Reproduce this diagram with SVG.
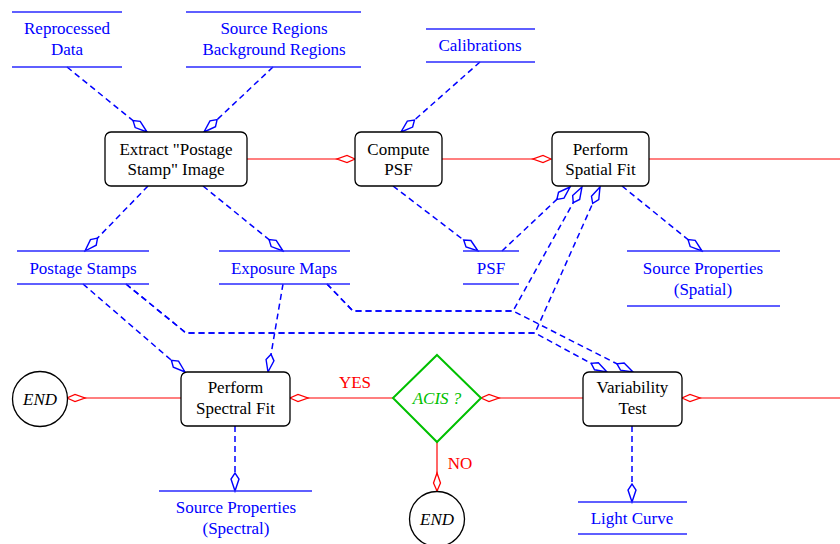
<svg xmlns="http://www.w3.org/2000/svg" width="840" height="544" viewBox="0 0 840 544">
<style>
text{font-family:"Liberation Serif","Times New Roman",serif;font-size:17px;text-anchor:middle}
.b{fill:#0000ff}
.k{fill:#000}
.r{fill:#ff0000}
.g{fill:#00c000;font-style:italic}
.i{font-style:italic}
.store line{stroke:#2a2aff;stroke-width:1.3}
.box{fill:#fff;stroke:#000;stroke-width:1.3}
.red{stroke:#ff0000;stroke-width:1.2;fill:none;marker-end:url(#mr)}
.blue{stroke:#0000ff;stroke-width:1.5;fill:none;stroke-dasharray:6 4;marker-end:url(#mb)}
</style>
<defs>
<marker id="mr" viewBox="-20 -6 22 12" refX="0" refY="0" markerWidth="22" markerHeight="12" markerUnits="userSpaceOnUse" orient="auto">
<path d="M0,0 L-8,-3.5 L-18,0 L-8,3.5 Z" fill="#fff" stroke="#ff0000" stroke-width="1.3" stroke-dasharray="none"/>
</marker>
<marker id="mb" viewBox="-20 -6 22 12" refX="0" refY="0" markerWidth="22" markerHeight="12" markerUnits="userSpaceOnUse" orient="auto">
<path d="M0,0 L-12,-4 L-18,0 L-12,4 Z" fill="#fff" stroke="#0000ff" stroke-width="1.4" stroke-dasharray="none"/>
</marker>
</defs>

<g id="connectors">
<path class="red" d="M246,159 L355,159"/>
<path class="red" d="M442,159 L551,159"/>
<path class="red" d="M649,159 L840,159" style="marker-end:none"/>
<path class="red" d="M840,398 L682,398"/>
<path class="red" d="M583,398 L481,398"/>
<path class="red" d="M393,398 L290,398"/>
<path class="red" d="M181,398 L67,398"/>
<path class="red" d="M437,442 L437,491"/>

<path class="blue" d="M67,67 L147,132"/>
<path class="blue" d="M273,67 L204,132"/>
<path class="blue" d="M480,62 L401,132"/>
<path class="blue" d="M148,186 L85,251"/>
<path class="blue" d="M203,186 L283,251"/>
<path class="blue" d="M393,186 L478,251"/>
<path class="blue" d="M502,251 L570,187"/>
<path class="blue" d="M622,186 L702,251"/>
<path class="blue" d="M83,284 L185,372"/>
<path class="blue" d="M283,284 L268,372"/>
<path class="blue" d="M327,284 L353,311 L513,311 L582,187"/>
<path class="blue" d="M327,284 L353,311 L513,311 L633,372"/>
<path class="blue" d="M126,284 L186,333 L535,333 L600,187"/>
<path class="blue" d="M126,284 L186,333 L535,333 L607,372"/>
<path class="blue" d="M235,426 L235,491"/>
<path class="blue" d="M632,426 L632,502"/>
</g>

<g id="reprocessed-data" class="store">
<line x1="12" y1="12" x2="122" y2="12"/><line x1="12" y1="67" x2="122" y2="67"/>
<text class="b" x="67" y="34">Reprocessed</text><text class="b" x="67" y="55">Data</text>
</g>
<g id="regions" class="store">
<line x1="186" y1="12" x2="361" y2="12"/><line x1="186" y1="67" x2="361" y2="67"/>
<text class="b" x="274" y="34">Source Regions</text><text class="b" x="274" y="55">Background Regions</text>
</g>
<g id="calibrations" class="store">
<line x1="426" y1="29" x2="535" y2="29"/><line x1="426" y1="62" x2="535" y2="62"/>
<text class="b" x="480" y="51">Calibrations</text>
</g>

<g id="extract">
<rect class="box" x="105" y="132" width="142" height="54" rx="6"/>
<text class="k" x="176" y="155">Extract "Postage</text><text class="k" x="176" y="175">Stamp" Image</text>
</g>
<g id="compute-psf">
<rect class="box" x="355" y="132" width="87" height="54" rx="6"/>
<text class="k" x="398.5" y="155">Compute</text><text class="k" x="398.5" y="175">PSF</text>
</g>
<g id="spatial-fit">
<rect class="box" x="552" y="132" width="97" height="54" rx="6"/>
<text class="k" x="600.5" y="155">Perform</text><text class="k" x="600.5" y="175">Spatial Fit</text>
</g>

<g id="postage-stamps" class="store">
<line x1="17" y1="251" x2="149" y2="251"/><line x1="17" y1="284" x2="149" y2="284"/>
<text class="b" x="83" y="274">Postage Stamps</text>
</g>
<g id="exposure-maps" class="store">
<line x1="219" y1="251" x2="350" y2="251"/><line x1="219" y1="284" x2="350" y2="284"/>
<text class="b" x="284" y="274">Exposure Maps</text>
</g>
<g id="psf" class="store">
<line x1="463" y1="251" x2="519" y2="251"/><line x1="463" y1="284" x2="519" y2="284"/>
<text class="b" x="491" y="274">PSF</text>
</g>
<g id="source-props-spatial" class="store">
<line x1="627" y1="251" x2="780" y2="251"/><line x1="627" y1="306" x2="780" y2="306"/>
<text class="b" x="703" y="274">Source Properties</text><text class="b" x="703" y="295">(Spatial)</text>
</g>

<g id="end-left">
<circle cx="40" cy="399" r="27.5" fill="#fff" stroke="#000" stroke-width="1.3"/>
<text class="k i" x="40" y="405">END</text>
</g>
<g id="spectral-fit">
<rect class="box" x="181" y="372" width="109" height="54" rx="6"/>
<text class="k" x="235.5" y="393">Perform</text><text class="k" x="235.5" y="414">Spectral Fit</text>
</g>
<g id="acis">
<polygon points="437,355 481,398 437,442 393,398" fill="#fff" stroke="#00c000" stroke-width="2"/>
<text class="g" x="437" y="404">ACIS ?</text>
</g>
<g id="variability">
<rect class="box" x="583" y="372" width="99" height="54" rx="6"/>
<text class="k" x="632.5" y="393">Variability</text><text class="k" x="632.5" y="414">Test</text>
</g>
<g id="end-bottom">
<circle cx="437" cy="519" r="27.5" fill="#fff" stroke="#000" stroke-width="1.3"/>
<text class="k i" x="437" y="525">END</text>
</g>

<g id="labels">
<text class="r" x="355" y="388">YES</text>
<text class="r" x="460" y="469">NO</text>
</g>

<g id="source-props-spectral" class="store">
<line x1="159" y1="491" x2="312" y2="491"/>
<text class="b" x="236" y="513">Source Properties</text><text class="b" x="236" y="534">(Spectral)</text>
</g>
<g id="light-curve" class="store">
<line x1="578" y1="502" x2="687" y2="502"/><line x1="578" y1="534" x2="687" y2="534"/>
<text class="b" x="632" y="524">Light Curve</text>
</g>
</svg>
